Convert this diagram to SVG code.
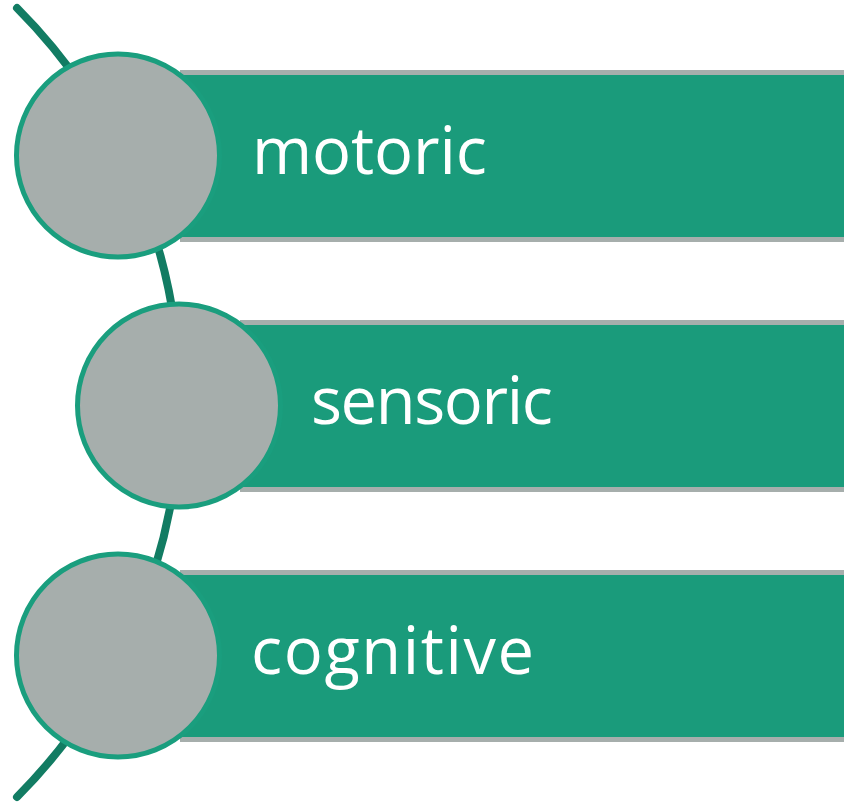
<svg xmlns="http://www.w3.org/2000/svg" width="844" height="803" viewBox="0 0 844 803">
<style>
.bar-edge{fill:#a6aeac}
.bar{fill:#1a9b7b}
.node{fill:#a6aeac;stroke:#1a9e7e;stroke-width:5}
.lbl{fill:#ffffff;font-family:"Open Sans","Noto Sans",sans-serif;font-size:65px}
.spine{fill:none;stroke:#127c63;stroke-width:8;stroke-linecap:round}
</style>
<rect width="844" height="803" fill="#ffffff"/>
<g id="connectors">
<path class="spine" d="M17,8 A558.9,558.9 0 0 1 17,797"/>
</g>
<g id="node-motoric">
<rect class="bar-edge" x="180" y="70" width="664" height="172"/>
<rect class="bar" x="180" y="75" width="664" height="162"/>
<circle class="node" cx="118" cy="155.5" r="101.5"/>
<text class="lbl" x="252" y="174" textLength="235" lengthAdjust="spacing">motoric</text>
</g>
<g id="node-sensoric">
<rect class="bar-edge" x="240" y="320" width="604" height="172"/>
<rect class="bar" x="240" y="325" width="604" height="162"/>
<circle class="node" cx="179" cy="405.5" r="101.5"/>
<text class="lbl" x="311" y="424" textLength="242" lengthAdjust="spacing">sensoric</text>
</g>
<g id="node-cognitive">
<rect class="bar-edge" x="180" y="570" width="664" height="172"/>
<rect class="bar" x="180" y="575" width="664" height="162"/>
<circle class="node" cx="118" cy="655.5" r="101.5"/>
<text class="lbl" x="251" y="674" textLength="283" lengthAdjust="spacing">cognitive</text>
</g>
</svg>
